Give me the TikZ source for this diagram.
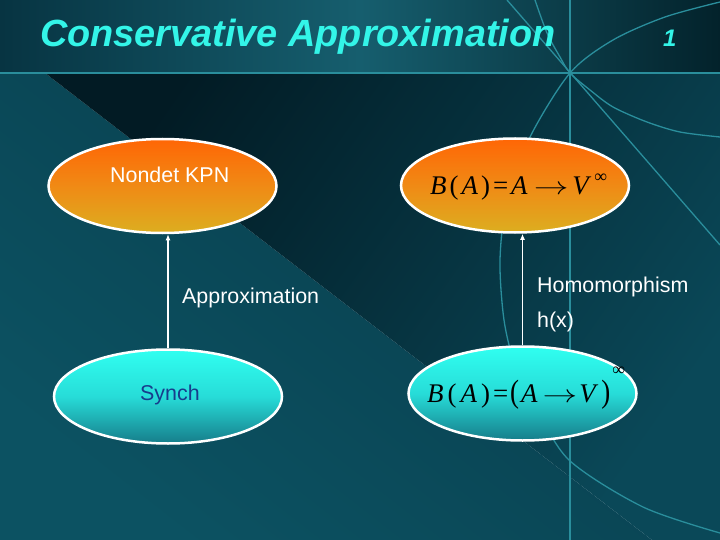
\documentclass[tikz,border=0pt]{standalone}
\usepackage{fontspec}
\setmainfont{Liberation Sans}
\newfontfamily\timesfont{Liberation Serif}
\usepackage{graphicx}
\usepackage{xcolor}
\usetikzlibrary{arrows.meta,shapes.geometric}

\definecolor{bgmain}{HTML}{0A4858}
\definecolor{bgleft}{HTML}{0C5262}
\definecolor{bgshadow}{HTML}{083C4B}
\definecolor{bgdark}{HTML}{021B24}
\definecolor{bandleft}{HTML}{073442}
\definecolor{bandmid}{HTML}{165E6E}
\definecolor{bandright}{HTML}{03222B}
\definecolor{decoline}{HTML}{2A8E9C}
\definecolor{titlecyan}{HTML}{33F5E8}
\definecolor{orangetop}{HTML}{FF6605}
\definecolor{orangemid}{HTML}{F08A15}
\definecolor{orangebot}{HTML}{DCAE20}
\definecolor{cyantop}{HTML}{30FFF0}
\definecolor{cyanmid}{HTML}{27DCD8}
\definecolor{cyanbot}{HTML}{167D8A}
\definecolor{synchblue}{HTML}{173D8C}

\newcommand{\mapto}{\scalebox{1.4}[1]{$\rightarrow$}}
\newcommand{\infsup}[1]{\raisebox{#1}{\fontsize{18}{18}\selectfont ∞}}
\newcommand{\tallpar}[1]{\scalebox{1}[1.2]{#1}}

\tikzset{
  deco/.style={decoline,line width=1.3bp},
  titletext/.style={font=\bfseries\itshape\fontsize{38}{40}\selectfont,text=titlecyan,inner sep=0pt,anchor=base west},
  topell/.style={ellipse,draw=white,line width=2.5bp,minimum width=228bp,minimum height=94bp,
    top color=orangetop,bottom color=orangebot,middle color=orangemid},
  botell/.style={ellipse,draw=white,line width=2.5bp,minimum width=228bp,minimum height=94bp,
    top color=cyantop,bottom color=cyanbot,middle color=cyanmid},
  lbl/.style={font=\fontsize{21.5}{24}\selectfont,text=white,inner sep=0pt,anchor=base west},
  formula/.style={font=\timesfont\fontsize{27}{30}\selectfont,text=black,inner sep=0pt,anchor=base west},
  up/.style={white,line width=1.5bp,-{Latex[length=6bp,width=5bp]}},
}

\begin{document}
\begin{tikzpicture}[x=1bp,y=-1bp]
\useasboundingbox (0,0) rectangle (720,540);

%background
\shade[top color=bgshadow,bottom color=bgleft,shading angle=-38] (0,73) -- (45,73) -- (652,540) -- (0,540) -- cycle;
\shade[top color=bgdark,bottom color=bgmain,shading angle=55] (45,73) -- (720,73) -- (720,540) -- (652,540) -- cycle;
\shade[left color=bandleft,right color=bandright,middle color=bandmid] (0,0) rectangle (720,73);

%lines
\draw[deco] (0,73) -- (720,73);
\draw[deco] (570,0) -- (570,540);
\draw[deco] (507,0) -- (720,245);
\draw[deco] plot[smooth] coordinates {(535,0) (547,33) (560,57) (570,73) (590,90) (613,107) (647,122) (680,132) (720,137)};
\draw[deco] plot[smooth] coordinates {(720,2) (665,17) (613,40) (570,73) (530,137) (507,200) (500,260) (504,320) (515,365) (535,405) (569,460) (643,507) (720,533)};

%title
\node[titletext] (title) at (40,47) {Conservative Approximation};
\node[titletext,font=\bfseries\itshape\fontsize{24}{26}\selectfont] (pageno) at (663,47) {1};

%ellipses
\node[topell] (kpn) at (162.5,186) {};
\node[topell] (fun) at (515,185.5) {};
\node[botell] (synch) at (168,396.5) {};
\node[botell] (stream) at (522.5,393.5) {};

%texts
\node[lbl] (kpntext) at (110,183) {Nondet KPN};
\node[lbl,text=synchblue] (synchtext) at (140,400) {Synch};
\node[formula] (funtext) at (430,195) {\textit{B}\kern3bp(\kern3bp\textit{A}\kern3bp)\kern3bp=\kern3bp\textit{A}\kern6bp\mapto\kern4bp\textit{V}\kern3bp\infsup{12bp}};
\node[formula] (streamtext) at (427,402) {\textit{B}\kern4bp(\kern4bp\textit{A}\kern4bp)\kern3bp=\kern2bp\tallpar{(}\kern2bp\textit{A}\kern5bp\mapto\kern2bp\textit{V}\kern3bp\tallpar{)}\kern2bp\infsup{27bp}};

%arrows
\draw[up] (synch.north) -- (synch.north |- kpn.south);
\draw[up] (stream.north) -- (stream.north |- fun.south);
\node[lbl] (approx) at (182,303) {Approximation};
\node[lbl] (homo) at (537,292) {Homomorphism};
\node[lbl] (hx) at (537,327) {h(x)};
\end{tikzpicture}
\end{document}
